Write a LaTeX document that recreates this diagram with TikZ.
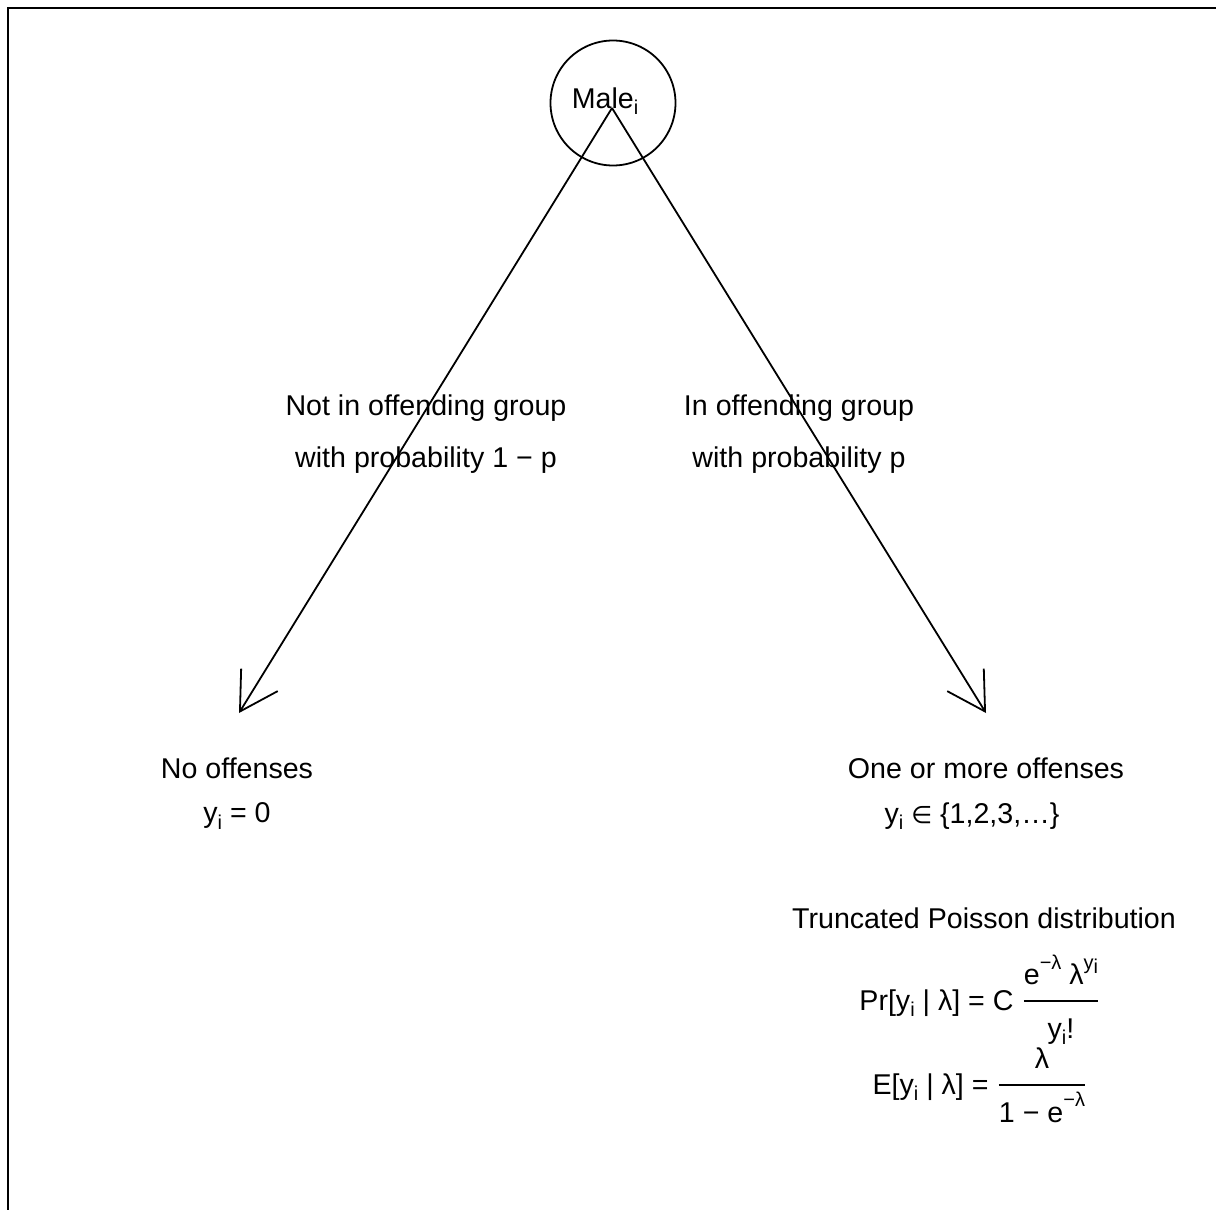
\documentclass[tikz,border=0pt]{standalone}
\usepackage{amsmath}
\usepackage{fontspec}
\setmainfont{Liberation Sans}
\newfontfamily\symfont{DejaVu Sans}
\usetikzlibrary{arrows.meta}

% 添字と分数
\newcommand{\lowtxt}[1]{\raisebox{-0.4ex}{\fontsize{10}{10}\selectfont #1}}
\newcommand{\uptxt}[1]{\raisebox{1.0ex}{\fontsize{10}{10}\selectfont #1}}
\newcommand{\fractxt}[2]{\raisebox{1pt}{$\genfrac{}{}{0.75pt}{0}%
    {\hbox{\rule[-5.5pt]{0pt}{0pt}#1}}{\hbox{\rule{0pt}{16pt}#2}}$}}

\begin{document}
\begin{tikzpicture}[x=0.5pt, y=-0.5pt, line width=0.9pt,
    font=\fontsize{14.3}{17}\selectfont,
    branch/.style={-{Straight Barb[length=18.6pt, width=21.5pt, line width=0.9pt]}}]
    \useasboundingbox (0,0) rectangle (1216,1210);

    % 枠
    \draw (8,1210) -- (8,8) -- (1216,8);

    % ノード
    \node[circle, draw, minimum size=62.5pt, inner sep=0pt] (male) at (613,103) {};
    \node (malelbl) at (605,101) {Male\lowtxt{i}};
    \coordinate (apex) at (612,108);
    \coordinate (tipL) at (239,713);
    \coordinate (tipR) at (986,713);

    % エッジ
    \draw[branch] (apex) -- (tipL);
    \draw[branch] (apex) -- (tipR);

    % ラベル
    \node (notin) at (426,408) {Not in offending group};
    \node (notinp) at (426,460) {with probability 1 − p};
    \node (in) at (799,408) {In offending group};
    \node (inp) at (799,460) {with probability p};

    \node (none) at (237,768) {No offenses};
    \node (nonev) at (237,816) {y\lowtxt{i} = 0};
    \node (some) at (986,768) {One or more offenses};
    \node (somev) at (972,816) {y\lowtxt{i} {\symfont\fontsize{12}{12}\selectfont ∈} \{1,2,3,…\}};

    \node (trunc) at (984,918) {Truncated Poisson distribution};
    \node[anchor=base] (prob) at (980,1010) {Pr[y\lowtxt{i} | λ] = C \fractxt{e\uptxt{−λ} λ\uptxt{y\lowtxt{i}}}{y\lowtxt{i}!}};
    \node[anchor=base] (mean) at (980,1094) {E[y\lowtxt{i} | λ] = \fractxt{λ}{1 − e\uptxt{−λ}}};
\end{tikzpicture}
\end{document}
